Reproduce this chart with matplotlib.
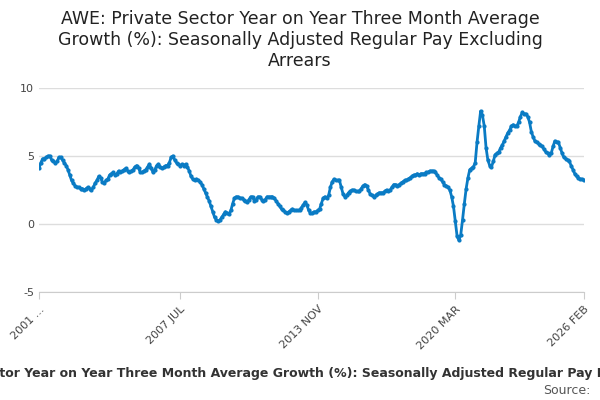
import matplotlib
matplotlib.use('Agg')
import matplotlib.pyplot as plt

plt.rcParams['axes.unicode_minus'] = False

# monthly values, 2001 JAN .. 2026 FEB
values = [
    4.1, 4.5, 4.8, 4.8, 4.9, 5.0, 5.0, 4.7, 4.6, 4.5, 4.6, 4.9,
    4.9, 4.7, 4.5, 4.3, 4.0, 3.6, 3.2, 3.0, 2.8, 2.7, 2.7, 2.6,
    2.6, 2.5, 2.6, 2.7, 2.6, 2.5, 2.7, 3.0, 3.2, 3.5, 3.4, 3.1,
    3.0, 3.2, 3.3, 3.6, 3.7, 3.8, 3.6, 3.7, 3.9, 3.8, 3.9, 4.0,
    4.1, 3.9, 3.8, 3.9, 4.0, 4.2, 4.3, 4.1, 3.8, 3.8, 3.9, 4.0,
    4.2, 4.4, 4.1, 3.8, 4.0, 4.3, 4.4, 4.2, 4.1, 4.2, 4.3, 4.3,
    4.5, 4.9, 5.0, 4.7, 4.5, 4.4, 4.3, 4.4, 4.3, 4.4, 4.2, 3.9,
    3.5, 3.3, 3.2, 3.3, 3.2, 3.1, 2.9, 2.6, 2.3, 2.0, 1.7, 1.3,
    0.9, 0.5, 0.3, 0.2, 0.3, 0.5, 0.7, 0.9, 0.8, 0.7, 1.0, 1.5,
    1.9, 2.0, 2.0, 1.9, 1.9, 1.8, 1.7, 1.6, 1.8, 2.0, 2.0, 1.7,
    1.8, 2.0, 2.0, 1.8, 1.7, 1.8, 2.0, 2.0, 2.0, 2.0, 1.9, 1.7,
    1.5, 1.3, 1.1, 1.0, 0.9, 0.8, 0.9, 1.0, 1.1, 1.0, 1.0, 1.0,
    1.0, 1.2, 1.4, 1.6, 1.4, 1.0, 0.8, 0.8, 0.9, 0.9, 1.0, 1.1,
    1.5, 1.9, 2.0, 1.9, 2.1, 2.7, 3.1, 3.3, 3.2, 3.2, 3.2, 2.7,
    2.2, 2.0, 2.1, 2.3, 2.4, 2.5, 2.5, 2.4, 2.4, 2.4, 2.6, 2.8,
    2.9, 2.8, 2.5, 2.2, 2.1, 2.0, 2.1, 2.2, 2.3, 2.3, 2.3, 2.4,
    2.5, 2.4, 2.5, 2.7, 2.9, 2.9, 2.8, 2.9, 3.0, 3.1, 3.2, 3.2,
    3.3, 3.4, 3.5, 3.6, 3.6, 3.7, 3.6, 3.7, 3.7, 3.7, 3.8, 3.8,
    3.9, 3.9, 3.9, 3.8, 3.6, 3.4, 3.3, 3.1, 2.9, 2.8, 2.7, 2.5,
    2.0, 1.3, 0.2, -0.9, -1.2, -0.8, 0.3, 1.5, 2.6, 3.4, 4.0, 4.1,
    4.2, 4.5, 6.0, 7.2, 8.3, 8.0, 7.2, 5.6, 4.7, 4.3, 4.2, 4.6,
    5.1, 5.2, 5.3, 5.6, 5.8, 6.1, 6.4, 6.7, 6.9, 7.2, 7.3, 7.2,
    7.2, 7.5, 7.9, 8.2, 8.1, 8.1, 7.9, 7.5, 6.8, 6.4, 6.1, 6.0,
    5.9, 5.8, 5.7, 5.5, 5.3, 5.2, 5.1, 5.2, 5.7, 6.1, 6.0, 6.0,
    5.6, 5.2, 4.9, 4.8, 4.7, 4.6, 4.3, 4.0, 3.7, 3.5, 3.4, 3.3,
    3.3, 3.2,
]
tick_pos = [0, 78, 154, 230, 301]
tick_labels = ['2001 ...', '2007 JUL', '2013 NOV', '2020 MAR', '2026 FEB']
y_ticks = [-5, 0, 5, 10]

title = ('AWE: Private Sector Year on Year Three Month Average\n'
         'Growth (%): Seasonally Adjusted Regular Pay Excluding\nArrears')
xlabel = ('AWE: Private Sector Year on Year Three Month Average Growth (%): '
          'Seasonally Adjusted Regular Pay Excluding Arrears')

fig = plt.figure(figsize=(6, 4), dpi=100)
ax = fig.add_axes([0.065, 0.27, 0.908, 0.51])
x = list(range(len(values)))
ax.plot(x, values, color='#0a7bc4', lw=2, marker='o', ms=2)
ax.set_xlim(0, len(values) - 1)
ax.set_ylim(-5, 10)
ax.set_yticks(y_ticks)
ax.set_xticks(tick_pos)
ax.set_xticklabels(tick_labels, rotation=45, ha='right', rotation_mode='anchor',
                   fontsize=8, color='#444444')
ax.tick_params(axis='y', length=0, labelsize=8, labelcolor='#444444')
ax.tick_params(axis='x', length=5, color='#cccccc')
ax.grid(axis='y', color='#dddddd', lw=1)
ax.set_axisbelow(True)
for s in ['top', 'right', 'left']:
    ax.spines[s].set_visible(False)
ax.spines['bottom'].set_color('#cccccc')

fig.text(0.5, 0.975, title, ha='center', va='top', fontsize=12.5, color='#222222')
fig.text(0.5, 0.065, xlabel, ha='center', va='center', fontsize=9,
         fontweight='bold', color='#333333')
fig.text(0.985, 0.025, 'Source:', ha='right', va='center', fontsize=9, color='#555555')

fig.savefig('out.png')
plt.close(fig)
